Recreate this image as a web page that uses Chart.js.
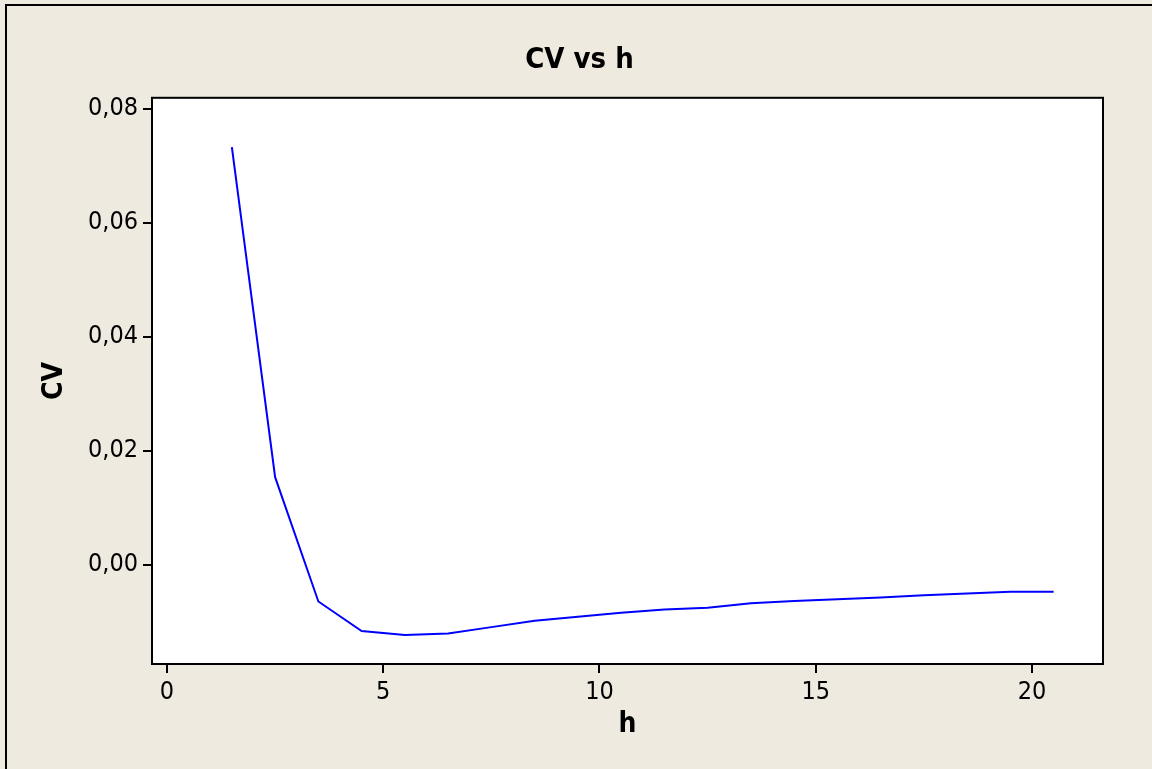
<!DOCTYPE html>
<html>
<head>
<meta charset="utf-8">
<script src="https://cdn.jsdelivr.net/npm/chart.js@4/dist/chart.umd.min.js"></script>
<style>
    body { margin: 0; background: #eeeae0; }
    #wrap { width: 1152px; height: 769px; }
</style>
</head>
<body>
<div id="wrap"><canvas id="chart" width="1152" height="769"></canvas></div>
<script>
// data
const hValues = [1.5, 2.5, 3.5, 4.5, 5.5, 6.5, 7.5, 8.5, 9.5, 10.5,
                 11.5, 12.5, 13.5, 14.5, 15.5, 16.5, 17.5, 18.5, 19.5, 20.5];
const cvValues = [0.0733, 0.0154, -0.0064, -0.0116, -0.0123, -0.0120, -0.0109, -0.0098, -0.0091, -0.0084,
                  -0.0078, -0.0075, -0.0067, -0.0063, -0.0060, -0.0057, -0.0053, -0.0050, -0.0047, -0.0047];

const xTickValues = [0, 5, 10, 15, 20];
const xTickLabels = ['0', '5', '10', '15', '20'];
const yTickValues = [0, 0.02, 0.04, 0.06, 0.08];
const yTickLabels = ['0,00', '0,02', '0,04', '0,06', '0,08'];

const FONT = '"DejaVu Sans Condensed", "DejaVu Sans", sans-serif';

// background, outer frame and plot box
const framePlugin = {
    id: 'frame',
    beforeDraw(chart) {
        const ctx = chart.ctx;
        const a = chart.chartArea;
        ctx.save();
        ctx.fillStyle = '#eeeae0';
        ctx.fillRect(0, 0, chart.width, chart.height);
        ctx.strokeStyle = '#000';
        ctx.lineWidth = 2;
        ctx.beginPath();
        ctx.moveTo(6, chart.height);
        ctx.lineTo(6, 5);
        ctx.lineTo(chart.width, 5);
        ctx.stroke();
        ctx.fillStyle = '#fff';
        ctx.fillRect(a.left, a.top, a.right - a.left, a.bottom - a.top);
        ctx.restore();
    },
    afterDraw(chart) {
        const ctx = chart.ctx;
        const a = chart.chartArea;
        ctx.save();
        ctx.strokeStyle = '#000';
        ctx.lineWidth = 2;
        ctx.strokeRect(a.left, a.top, a.right - a.left, a.bottom - a.top);
        ctx.restore();
    }
};

const ctx = document.getElementById('chart').getContext('2d');

new Chart(ctx, {
    type: 'line',
    data: {
        datasets: [{
            label: 'CV',
            data: hValues.map((h, i) => ({ x: h, y: cvValues[i] })),
            borderColor: '#0000ff',
            borderWidth: 2,
            pointRadius: 0,
            tension: 0,
            fill: false
        }]
    },
    options: {
        responsive: false,
        animation: false,
        layout: { padding: { left: 7, right: 0, top: 0, bottom: 0 } },
        plugins: {
            legend: { display: false },
            tooltip: { enabled: false },
            title: {
                display: true,
                text: 'CV vs h',
                color: '#000',
                font: { family: FONT, size: 29, weight: 'bold' },
                padding: { top: 43, bottom: 20 }
            }
        },
        scales: {
            x: {
                type: 'linear',
                min: -0.3468,
                max: 21.642,
                afterBuildTicks: (scale) => {
                    scale.ticks = xTickValues.map(v => ({ value: v }));
                },
                afterFit: (scale) => { scale.height = 105; },
                ticks: {
                    color: '#000',
                    font: { family: FONT, size: 25 },
                    padding: 4,
                    maxRotation: 0,
                    callback: (v) => xTickLabels[xTickValues.indexOf(v)]
                },
                grid: {
                    drawOnChartArea: false,
                    drawTicks: true,
                    tickLength: 9,
                    color: '#000',
                    lineWidth: 2
                },
                border: { display: false },
                title: {
                    display: true,
                    text: 'h',
                    color: '#000',
                    font: { family: FONT, size: 28, weight: 'bold' },
                    padding: { top: 0, bottom: 27 }
                }
            },
            y: {
                type: 'linear',
                min: -0.017368,
                max: 0.08193,
                afterBuildTicks: (scale) => {
                    scale.ticks = yTickValues.map(v => ({ value: v }));
                },
                afterFit: (scale) => { scale.width = 145; },
                ticks: {
                    color: '#000',
                    font: { family: FONT, size: 25 },
                    padding: 5,
                    callback: (v) => yTickLabels[yTickValues.indexOf(v)]
                },
                grid: {
                    drawOnChartArea: false,
                    drawTicks: true,
                    tickLength: 9,
                    color: '#000',
                    lineWidth: 2
                },
                border: { display: false },
                title: {
                    display: true,
                    text: 'CV',
                    color: '#000',
                    font: { family: FONT, size: 28, weight: 'bold' },
                    padding: { top: 31, bottom: 0 }
                }
            },
            // empty right-hand scale that only keeps the margin on the right
            yRight: {
                type: 'linear',
                position: 'right',
                display: true,
                afterFit: (scale) => { scale.width = 49; },
                ticks: { display: false },
                grid: { display: false },
                border: { display: false }
            }
        }
    },
    plugins: [framePlugin]
});
</script>
</body>
</html>
